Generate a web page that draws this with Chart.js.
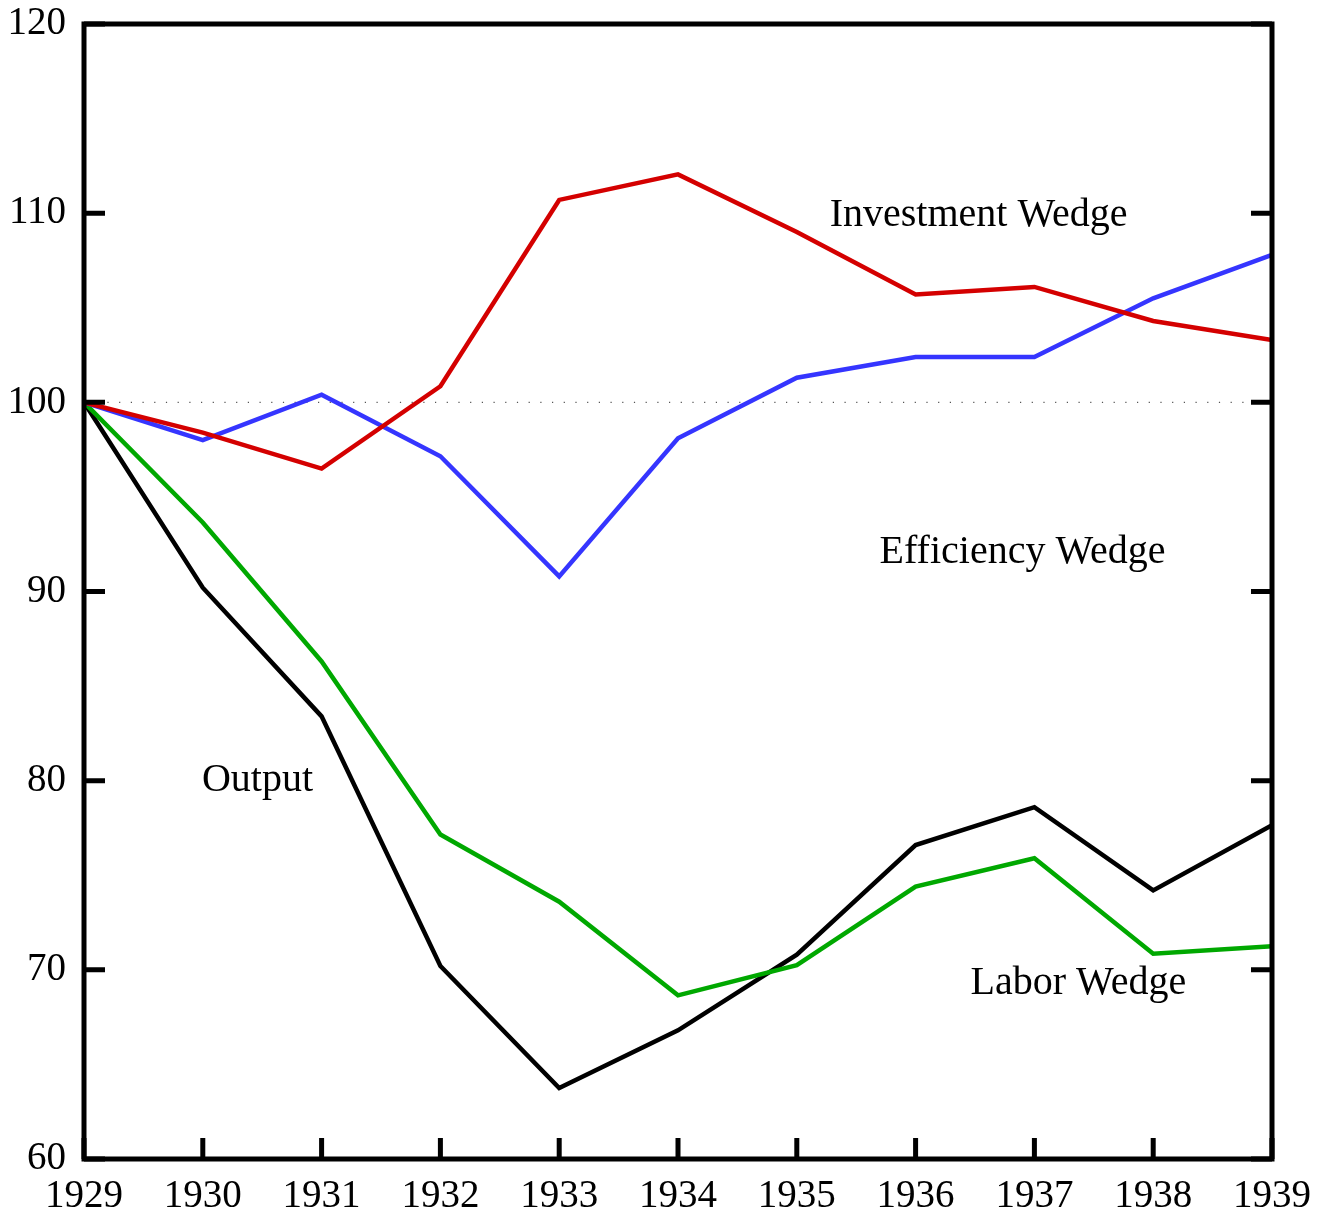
<!DOCTYPE html>
<html>
<head>
<meta charset="utf-8">
<script src="https://cdn.jsdelivr.net/npm/chart.js@4"></script>
<style>
  html, body { margin: 0; padding: 0; background: #fff; }
  #wrap { width: 1326px; height: 1216px; }
</style>
</head>
<body>
<div id="wrap"><canvas id="chart" width="1326" height="1216"></canvas></div>
<script>
const years = [1929, 1930, 1931, 1932, 1933, 1934, 1935, 1936, 1937, 1938, 1939];
const output = [100, 90.2, 83.4, 70.2, 63.75, 66.8, 70.8, 76.6, 78.6, 74.2, 77.65];
const laborWedge = [100, 93.65, 86.3, 77.15, 73.6, 68.65, 70.25, 74.4, 75.9, 70.85, 71.25];
const efficiencyWedge = [100, 98.0, 100.4, 97.15, 90.8, 98.1, 101.3, 102.4, 102.4, 105.5, 107.8];
const investmentWedge = [100, 98.4, 96.5, 100.85, 110.7, 112.05, 109.0, 105.7, 106.1, 104.3, 103.3];

const yTicks = [60, 70, 80, 90, 100, 110, 120];
const baseline = 100;

// labels written on the plot, placed in data units
const annotations = [
    { text: 'Investment Wedge', x: 1936.53, y: 109.9 },
    { text: 'Efficiency Wedge', x: 1936.9, y: 92.07 },
    { text: 'Output', x: 1930.46, y: 80.0 },
    { text: 'Labor Wedge', x: 1937.37, y: 69.3 }
];

const FONT = '"Liberation Serif", "Times New Roman", serif';

function toPoints(values) {
    return years.map((yr, i) => ({ x: yr, y: values[i] }));
}

function makeSeries(label, values, color) {
    return {
        label: label,
        data: toPoints(values),
        borderColor: color,
        backgroundColor: color,
        borderWidth: 4.5,
        pointRadius: 0,
        tension: 0,
        fill: false
    };
}

const framePlugin = {
    id: 'frame',
    beforeDatasetsDraw(chart) {
        const { ctx, chartArea, scales } = chart;
        const y = scales.y.getPixelForValue(baseline);
        ctx.save();
        ctx.strokeStyle = '#555';
        ctx.lineWidth = 1.2;
        ctx.setLineDash([1.2, 10.5]);
        ctx.beginPath();
        ctx.moveTo(chartArea.left, y);
        ctx.lineTo(chartArea.right, y);
        ctx.stroke();
        ctx.restore();
    },
    afterDatasetsDraw(chart) {
        const { ctx, chartArea, scales } = chart;
        const tick = 21;
        ctx.save();
        ctx.strokeStyle = '#000';
        ctx.lineWidth = 5;
        ctx.lineCap = 'butt';
        ctx.beginPath();
        years.forEach((yr) => {
            const x = scales.x.getPixelForValue(yr);
            ctx.moveTo(x, chartArea.bottom);
            ctx.lineTo(x, chartArea.bottom - tick);
        });
        yTicks.forEach((v) => {
            const y = scales.y.getPixelForValue(v);
            ctx.moveTo(chartArea.left, y);
            ctx.lineTo(chartArea.left + tick, y);
            ctx.moveTo(chartArea.right, y);
            ctx.lineTo(chartArea.right - tick, y);
        });
        ctx.stroke();
        ctx.strokeRect(chartArea.left, chartArea.top,
            chartArea.right - chartArea.left, chartArea.bottom - chartArea.top);

        ctx.fillStyle = '#000';
        ctx.font = '40px ' + FONT;
        ctx.textAlign = 'center';
        ctx.textBaseline = 'middle';
        annotations.forEach((a) => {
            ctx.fillText(a.text, scales.x.getPixelForValue(a.x), scales.y.getPixelForValue(a.y));
        });
        ctx.restore();
    }
};

new Chart(document.getElementById('chart'), {
    type: 'line',
    data: {
        datasets: [
            makeSeries('Investment Wedge', investmentWedge, '#d40000'),
            makeSeries('Efficiency Wedge', efficiencyWedge, '#3535ff'),
            makeSeries('Labor Wedge', laborWedge, '#00a800'),
            makeSeries('Output', output, '#000000')
        ]
    },
    options: {
        responsive: false,
        animation: false,
        layout: { padding: { left: 0, top: 24, right: 54, bottom: 0 } },
        plugins: {
            legend: { display: false },
            tooltip: { enabled: false }
        },
        scales: {
            x: {
                type: 'linear',
                min: 1929,
                max: 1939,
                afterFit(scale) {
                    scale.height = 57;
                    scale.paddingLeft = 0;
                    scale.paddingRight = 0;
                },
                grid: { display: false, drawTicks: false },
                border: { display: false },
                ticks: {
                    stepSize: 1,
                    padding: 14,
                    color: '#000',
                    maxRotation: 0,
                    autoSkip: false,
                    font: { family: FONT, size: 39 },
                    callback: (v) => String(v)
                }
            },
            y: {
                min: 60,
                max: 120,
                afterFit(scale) {
                    scale.width = 84;
                    scale.paddingTop = 0;
                    scale.paddingBottom = 0;
                },
                grid: { display: false, drawTicks: false },
                border: { display: false },
                ticks: {
                    stepSize: 10,
                    padding: 18,
                    color: '#000',
                    font: { family: FONT, size: 39 }
                }
            }
        }
    },
    plugins: [framePlugin]
});
</script>
</body>
</html>
